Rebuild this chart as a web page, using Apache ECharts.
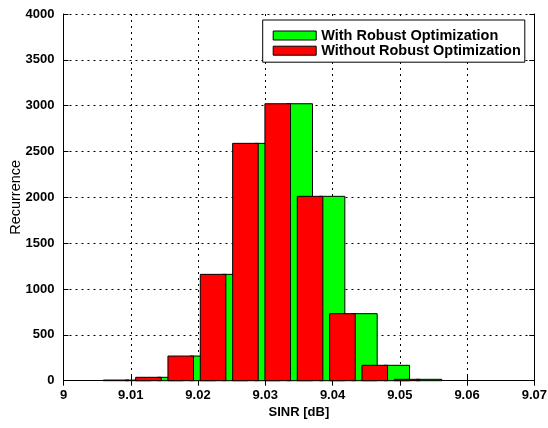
<!DOCTYPE html>
<html>
<head>
<meta charset="utf-8">
<script src="https://cdn.jsdelivr.net/npm/echarts@6/dist/echarts.min.js"></script>
<style>
html,body{margin:0;padding:0;background:#fff;}
#chart{width:548px;height:428px;}
</style>
</head>
<body>
<div id="chart"></div>
<script>
// Histogram bin centres (SINR, dB)
var redCenters   = [9.00782, 9.01263, 9.01743, 9.02224, 9.02705, 9.03185, 9.03666, 9.04147, 9.04628, 9.05108];
var greenCenters = [9.01109, 9.01590, 9.02070, 9.02551, 9.03032, 9.03512, 9.03993, 9.04474, 9.04955, 9.05435];
// Recurrence counts
var withoutRobust = [7, 37, 269, 1160, 2589, 3021, 2011, 731, 168, 15];
var withRobust    = [7, 37, 269, 1160, 2589, 3021, 2011, 731, 168, 15];
var binWidth = 0.0038;
var xTickLabels = ['9', '9.01', '9.02', '9.03', '9.04', '9.05', '9.06', '9.07'];
var yTickLabels = ['0', '500', '1000', '1500', '2000', '2500', '3000', '3500', '4000'];

var FONT = 'Liberation Sans, Arial, Helvetica, sans-serif';

function pairs(xs, ys) {
  return xs.map(function (x, i) { return [x, ys[i]]; });
}

function renderBar(params, api) {
  var x = api.value(0), y = api.value(1);
  var p1 = api.coord([x - binWidth / 2, y]);
  var p2 = api.coord([x + binWidth / 2, 0]);
  return {
    type: 'rect',
    shape: { x: p1[0], y: p1[1], width: p2[0] - p1[0], height: p2[1] - p1[1] },
    style: { fill: api.visual('color'), stroke: '#000', lineWidth: 1 }
  };
}

var chart = echarts.init(document.getElementById('chart'), null, { renderer: 'canvas' });
var gridLine = { show: true, lineStyle: { color: '#000', width: 1, type: [2, 4] } };
var axisLineStyle = { show: true, lineStyle: { color: '#000', width: 1 } };

chart.setOption({
  backgroundColor: '#fff',
  animation: false,
  grid: { left: 63.5, right: 13.7, top: 14, bottom: 47.3, containLabel: false, outerBoundsMode: 'none' },
  legend: {
    left: 262.7, top: 20,
    orient: 'vertical',
    backgroundColor: '#fff',
    borderColor: '#000', borderWidth: 1,
    padding: [8, 4, 4, 10],
    itemWidth: 43, itemHeight: 9, itemGap: 0.2,
    icon: 'rect',
    itemStyle: { borderColor: '#000', borderWidth: 1 },
    textStyle: { fontFamily: FONT, fontSize: 14.5, fontWeight: 'bold', color: '#000', lineHeight: 15 },
    data: ['With Robust Optimization', 'Without Robust Optimization']
  },
  xAxis: [{
    type: 'value', min: 9, max: 9.07, interval: 0.01,
    name: 'SINR [dB]', nameLocation: 'middle', nameGap: 25, nameMoveOverlap: false,
    nameTextStyle: { fontFamily: FONT, fontSize: 13, fontWeight: 'bold', color: '#000' },
    axisLine: axisLineStyle,
    axisTick: { show: true, inside: true, length: 5, lineStyle: { color: '#000' } },
    axisLabel: {
      fontFamily: FONT, fontSize: 13, fontWeight: 'bold', color: '#000', margin: 8,
      formatter: function (v) { return xTickLabels[Math.round((v - 9) / 0.01)]; }
    },
    splitLine: gridLine
  }, {
    type: 'value', position: 'top', min: 9, max: 9.07, interval: 0.01,
    axisLine: axisLineStyle,
    axisTick: { show: true, inside: true, length: 5, lineStyle: { color: '#000' } },
    axisLabel: { show: false }, splitLine: { show: false }
  }],
  yAxis: [{
    type: 'value', min: 0, max: 4000, interval: 500,
    name: 'Recurrence', nameLocation: 'middle', nameGap: 40, nameMoveOverlap: false,
    nameTextStyle: { fontFamily: FONT, fontSize: 14.5, color: '#000' },
    axisLine: axisLineStyle,
    axisTick: { show: true, inside: true, length: 5, lineStyle: { color: '#000' } },
    axisLabel: {
      fontFamily: FONT, fontSize: 13, fontWeight: 'bold', color: '#000', margin: 9,
      formatter: function (v) { return yTickLabels[Math.round(v / 500)]; }
    },
    splitLine: gridLine
  }, {
    type: 'value', position: 'right', min: 0, max: 4000, interval: 500,
    axisLine: axisLineStyle,
    axisTick: { show: true, inside: true, length: 5, lineStyle: { color: '#000' } },
    axisLabel: { show: false }, splitLine: { show: false }
  }],
  series: [{
    name: 'With Robust Optimization',
    type: 'custom', xAxisIndex: 0, yAxisIndex: 0,
    itemStyle: { color: '#00ff00' },
    renderItem: renderBar,
    encode: { x: 0, y: 1 },
    data: pairs(greenCenters, withRobust),
    z: 2
  }, {
    name: 'Without Robust Optimization',
    type: 'custom', xAxisIndex: 0, yAxisIndex: 0,
    itemStyle: { color: '#ff0000' },
    renderItem: renderBar,
    encode: { x: 0, y: 1 },
    data: pairs(redCenters, withoutRobust),
    z: 3
  }]
});
</script>
</body>
</html>
